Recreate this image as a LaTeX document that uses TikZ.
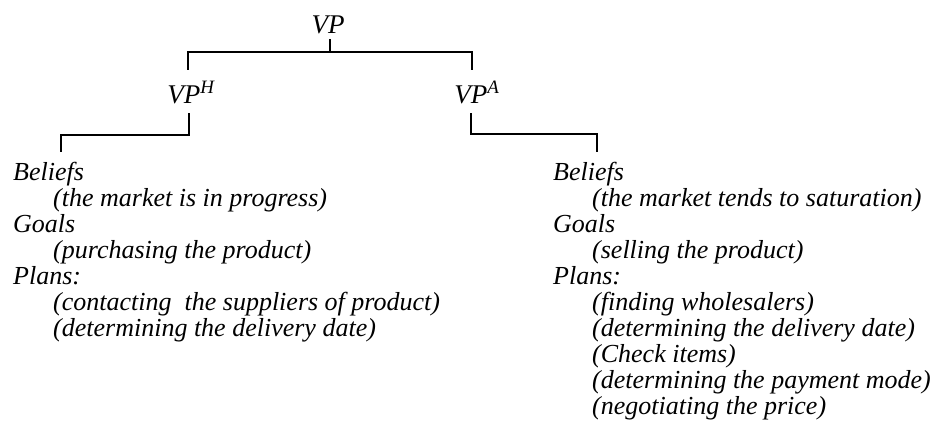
\documentclass[tikz,border=0pt]{standalone}
\usepackage{fontspec}
\setmainfont{Liberation Serif}
\begin{document}
\begin{tikzpicture}[x=1pt,y=-1pt,
  txt/.style={inner sep=0pt, anchor=base west, font=\fontsize{26}{26}\selectfont\itshape},
  head/.style={inner sep=0pt, anchor=base, text height=18pt, text depth=0pt,
    font=\fontsize{27}{27}\selectfont\itshape},
  conn/.style={draw=black, line width=1.6pt, line cap=butt, line join=miter}]
\useasboundingbox (0,0) rectangle (938,429);

% tree heads
\node[head] (vp)  at (328,33)  {VP};
\node[head] (vph) at (191,103) {VP\textsuperscript{H}};
\node[head] (vpa) at (477,103) {VP\textsuperscript{A}};

% left column: the buyer's view
\node[txt] (l1) at (13,180)  {Beliefs};
\node[txt] (l2) at (53,206)  {(the market is in progress)};
\node[txt] (l3) at (13,232)  {Goals};
\node[txt] (l4) at (53,258)  {(purchasing the product)};
\node[txt] (l5) at (13,284)  {Plans:};
\node[txt] (l6) at (53,310)  {(contacting\ \ the suppliers of product)};
\node[txt] (l7) at (53,336)  {(determining the delivery date)};

% right column: the seller's view
\node[txt] (r1)  at (553,180)  {Beliefs};
\node[txt] (r2)  at (592,206)  {(the market tends to saturation)};
\node[txt] (r3)  at (553,232)  {Goals};
\node[txt] (r4)  at (592,258)  {(selling the product)};
\node[txt] (r5)  at (553,284)  {Plans:};
\node[txt] (r6)  at (592,310)  {(finding wholesalers)};
\node[txt] (r7)  at (592,336)  {(determining the delivery date)};
\node[txt] (r8)  at (592,362)  {(Check items)};
\node[txt] (r9)  at (592,388)  {(determining the payment mode)};
\node[txt] (r10) at (592,414)  {(negotiating the price)};

% bracket connectors
\coordinate (vpj)  at (330,52);
\coordinate (lend) at (61,152);
\coordinate (rend) at (597,152);

\draw[conn] ([xshift=2pt,yshift=-6pt]vp.south) -- (vpj);
\draw[conn] (vpj) -| ([xshift=-3pt,yshift=15pt]vph.north);
\draw[conn] (vpj) -| ([xshift=-5pt,yshift=15pt]vpa.north);
\draw[conn] ([xshift=-2pt,yshift=-10pt]vph.south) -- ++(0,22) -| (lend);
\draw[conn] ([xshift=-6pt,yshift=-10pt]vpa.south) -- ++(0,21) -| (rend);
\end{tikzpicture}
\end{document}
